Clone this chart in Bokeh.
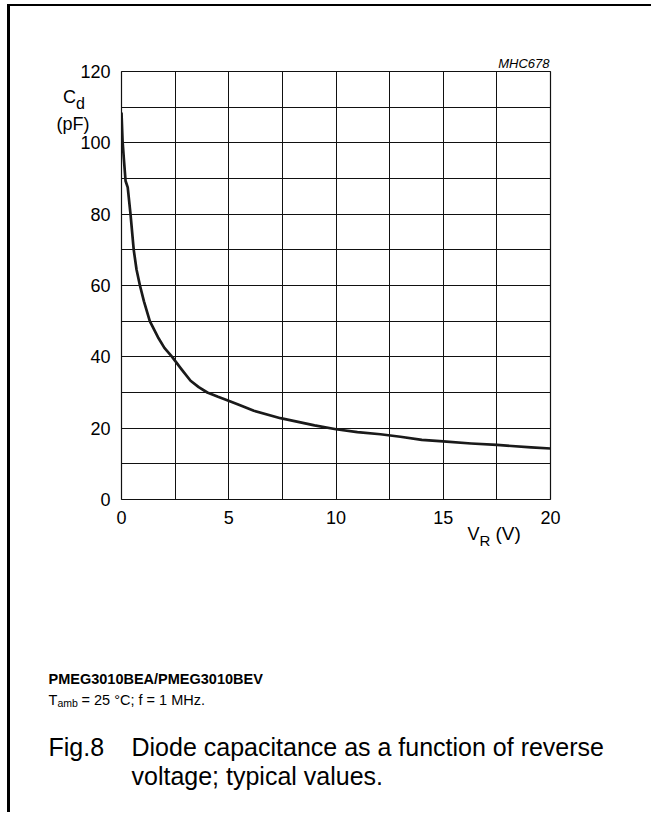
from bokeh.plotting import figure
from bokeh.models import FixedTicker, Label, Range1d
from bokeh.embed import file_html
from bokeh.resources import INLINE

# Data
vr = [0, 0.05, 0.11, 0.19, 0.29, 0.42, 0.57, 0.7, 0.86, 1.05, 1.32, 1.7, 2.0, 2.36, 2.8,
      3.22, 3.6, 4.0, 4.5, 4.99, 5.5, 6.17, 7.41, 9.0, 10.0, 11.0, 12.07, 13.0, 14.0, 15.0,
      16.3, 17.5, 19.1, 20.0]
cd = [108.5, 100.5, 95.5, 89.3, 87.5, 80, 70, 64.5, 60, 55.5, 50, 45.5, 42.5, 40, 36.5,
      33.3, 31.5, 30.0, 28.8, 27.7, 26.5, 24.9, 22.8, 20.8, 19.7, 18.9, 18.3, 17.6, 16.7, 16.3,
      15.7, 15.3, 14.6, 14.3]
x_ticks = [0, 5, 10, 15, 20]
y_ticks = [0, 20, 40, 60, 80, 100, 120]
x_grid = [0, 2.5, 5, 7.5, 10, 12.5, 15, 17.5, 20]
y_grid = [0, 10, 20, 30, 40, 50, 60, 70, 80, 90, 100, 110, 120]

FONT = "Liberation Sans"
INK = "#111111"

p = figure(frame_width=429, frame_height=428,
           x_range=Range1d(0, 20), y_range=Range1d(0, 120),
           output_backend="svg", toolbar_location=None,
           min_border_left=111, min_border_right=101,
           min_border_top=65, min_border_bottom=313)
p.styles = {"border-top": "2px solid #000", "border-left": "3px solid #000",
            "margin-top": "4px", "margin-left": "7px"}
p.background_fill_color = "white"
p.border_fill_color = "white"
p.outline_line_color = INK
p.outline_line_width = 1.2

for ax in (p.xaxis[0], p.yaxis[0]):
    ax.axis_line_color = None
    ax.major_tick_line_color = None
    ax.minor_tick_line_color = None
    ax.major_tick_out = 0
    ax.major_tick_in = 0
    ax.major_label_text_font = FONT
    ax.major_label_text_font_size = "18px"
    ax.major_label_text_color = "black"
p.xaxis.ticker = FixedTicker(ticks=x_ticks)
p.yaxis.ticker = FixedTicker(ticks=y_ticks)
p.xaxis.major_label_standoff = 11
p.yaxis.major_label_standoff = 11

p.xgrid.ticker = FixedTicker(ticks=x_grid)
p.ygrid.ticker = FixedTicker(ticks=y_grid)
for g in (p.xgrid[0], p.ygrid[0]):
    g.grid_line_color = INK
    g.grid_line_alpha = 1.0
    g.grid_line_width = 1

p.line(vr, cd, line_width=2.7, line_color="#1a1a1a", line_join="round")


def X(px):
    return (px - 121.0) / 429.0 * 20.0


def Y(py):
    return (498.7 - py) / 428.0 * 120.0


def lab(text, px, py, size, align="left", style="normal", base="alphabetic"):
    p.add_layout(Label(x=X(px), y=Y(py), text=text, text_font=FONT,
                       text_font_size=f"{size}px", text_align=align,
                       text_baseline=base, text_font_style=style,
                       text_color="black"), "below")


lab("MHC678", 549, 62.5, 13, align="right", style="italic")
lab("C", 62.5, 96.5, 18)
lab("d", 75.5, 102.5, 16)
lab("(pF)", 56, 123, 18)
lab("V", 467, 533, 18)
lab("R", 479, 540, 15)
lab("(V)", 495, 533, 19)

lab("PMEG3010BEA/PMEG3010BEV", 48, 678, 14.5, style="bold")
lab("T", 48, 699, 14.5)
lab("amb", 57, 702, 10.5)
lab("= 25 \u00b0C; f = 1 MHz.", 81, 699, 14.5)
lab("Fig.8", 48, 746, 25)
lab("Diode capacitance as a function of reverse", 131, 746, 25)
lab("voltage; typical values.", 131, 775, 25)

open("out.html", "w").write(file_html(p, INLINE))
